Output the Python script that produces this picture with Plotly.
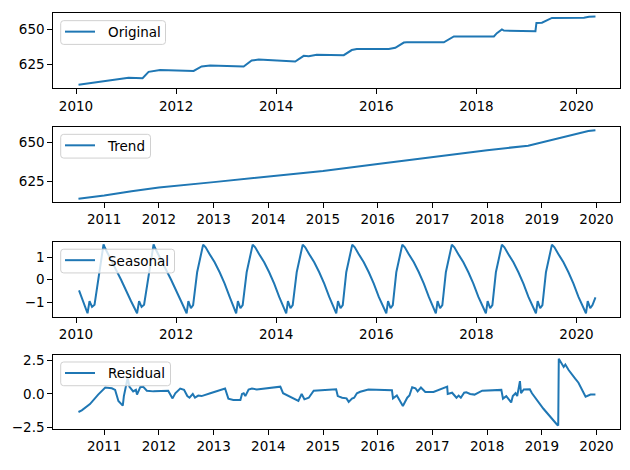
import plotly.graph_objects as go

# decimal years and values
ORIG_T = [2010.05, 2011.05, 2011.33, 2011.45, 2011.68, 2012.35, 2012.51, 2012.68,
          2013.35, 2013.51, 2013.65, 2014.38, 2014.55, 2014.65, 2014.81, 2015.35,
          2015.51, 2015.61, 2016.25, 2016.38, 2016.55, 2016.61, 2017.35, 2017.55,
          2018.35, 2018.41, 2018.51, 2018.55, 2019.18, 2019.20, 2019.31, 2019.51,
          2020.15, 2020.25, 2020.38]
ORIG_V = [610.9, 615.8, 615.5, 620.0, 621.3, 620.6, 623.8, 624.5,
          623.8, 628.0, 628.7, 627.3, 631.3, 631.0, 632.0, 631.8,
          635.4, 636.1, 636.1, 637.0, 640.7, 640.9, 640.9, 645.1,
          645.1, 647.4, 650.0, 649.2, 648.8, 654.6, 654.8, 658.2,
          658.3, 659.0, 659.1]

TREND_T = [2010.53, 2011.0, 2011.5, 2012.0, 2013.0, 2014.0, 2015.0, 2016.0,
           2017.0, 2018.0, 2018.75, 2019.0, 2019.5, 2019.85, 2019.98]
TREND_V = [614.0, 616.0, 618.8, 621.2, 624.6, 628.3, 631.7, 636.2,
           640.8, 645.0, 647.9, 650.0, 654.6, 657.3, 657.8]

SEAS_T = [2010.06, 2010.23, 2010.27, 2010.32, 2010.37, 2010.55, 2010.58, 2010.90, 2011.10,
          2011.22, 2011.26, 2011.31, 2011.36, 2011.55, 2011.58, 2011.90, 2012.10,
          2012.21, 2012.245, 2012.295, 2012.34, 2012.42, 2012.54, 2012.59, 2012.67, 2012.77, 2012.87, 2012.97, 2013.07,
          2013.20, 2013.235, 2013.285, 2013.33, 2013.41, 2013.53, 2013.58, 2013.66, 2013.76, 2013.86, 2013.96, 2014.06,
          2014.20, 2014.235, 2014.285, 2014.33, 2014.41, 2014.53, 2014.58, 2014.66, 2014.76, 2014.86, 2014.96, 2015.06,
          2015.20, 2015.235, 2015.285, 2015.33, 2015.40, 2015.52, 2015.57, 2015.65, 2015.75, 2015.85, 2015.95, 2016.05,
          2016.20, 2016.235, 2016.285, 2016.33, 2016.40, 2016.52, 2016.57, 2016.65, 2016.75, 2016.85, 2016.95, 2017.05,
          2017.19, 2017.225, 2017.275, 2017.32, 2017.39, 2017.51, 2017.56, 2017.64, 2017.74, 2017.84, 2017.94, 2018.04,
          2018.19, 2018.225, 2018.275, 2018.32, 2018.39, 2018.51, 2018.56, 2018.64, 2018.74, 2018.84, 2018.94, 2019.04,
          2019.19, 2019.225, 2019.275, 2019.32, 2019.39, 2019.51, 2019.56, 2019.64, 2019.74, 2019.84, 2019.94, 2020.04,
          2020.19, 2020.225, 2020.275, 2020.32, 2020.38]
SEAS_V = [-0.47, -1.48, -0.94, -1.20, -1.10, 1.56, 1.40, 0.00, -0.95,
          -1.48, -0.94, -1.20, -1.10, 1.56, 1.40, 0.00, -0.95,
          -1.48, -0.94, -1.26, -1.12, 0.33, 1.55, 1.43, 1.13, 0.77, 0.33, -0.17, -0.76,
          -1.48, -0.94, -1.26, -1.12, 0.33, 1.55, 1.43, 1.13, 0.77, 0.33, -0.17, -0.76,
          -1.48, -0.94, -1.26, -1.12, 0.33, 1.55, 1.43, 1.13, 0.77, 0.33, -0.17, -0.76,
          -1.48, -0.94, -1.26, -1.12, 0.33, 1.55, 1.43, 1.13, 0.77, 0.33, -0.17, -0.76,
          -1.48, -0.94, -1.26, -1.12, 0.33, 1.55, 1.43, 1.13, 0.77, 0.33, -0.17, -0.76,
          -1.48, -0.94, -1.26, -1.12, 0.33, 1.55, 1.43, 1.13, 0.77, 0.33, -0.17, -0.76,
          -1.48, -0.94, -1.26, -1.12, 0.33, 1.55, 1.43, 1.13, 0.77, 0.33, -0.17, -0.76,
          -1.48, -0.94, -1.26, -1.12, 0.33, 1.55, 1.43, 1.13, 0.77, 0.33, -0.17, -0.76,
          -1.48, -0.94, -1.26, -1.12, -0.78]

RESID_T = [2010.53, 2010.59, 2010.74, 2010.89, 2011.02, 2011.14, 2011.20, 2011.26, 2011.34,
           2011.36, 2011.43, 2011.46, 2011.53, 2011.58, 2011.60, 2011.66, 2011.71, 2011.78,
           2011.90, 2012.17, 2012.25, 2012.30, 2012.39, 2012.46, 2012.52, 2012.56, 2012.62,
           2012.66, 2012.72, 2012.78, 2012.94, 2013.21, 2013.27, 2013.36, 2013.49, 2013.52,
           2013.55, 2013.58, 2013.64, 2013.70, 2013.79, 2014.22, 2014.27, 2014.37, 2014.43,
           2014.49, 2014.55, 2014.61, 2014.66, 2014.74, 2014.83, 2015.24, 2015.27, 2015.35,
           2015.43, 2015.47, 2015.53, 2015.57, 2015.62, 2015.68, 2015.83, 2016.26, 2016.28,
           2016.35, 2016.46, 2016.54, 2016.58, 2016.63, 2016.69, 2016.73, 2016.79, 2016.87,
           2017.02, 2017.27, 2017.28, 2017.36, 2017.44, 2017.48, 2017.52, 2017.58, 2017.62,
           2017.69, 2017.77, 2017.91, 2018.26, 2018.29, 2018.35, 2018.44, 2018.47, 2018.52,
           2018.55, 2018.60, 2018.62, 2018.67, 2018.78, 2018.82, 2019.03, 2019.28, 2019.30,
           2019.31, 2019.35, 2019.40, 2019.43, 2019.49, 2019.61, 2019.67, 2019.80, 2019.89,
           2019.98]
RESID_V = [-1.34, -1.22, -0.75, -0.05, 0.47, 0.42, 0.30, -0.52, -0.87,
           -0.16, 1.20, 0.54, 0.19, 0.30, -0.05, 0.50, 0.54, 0.24,
           0.19, 0.24, -0.33, 0.05, 0.40, 0.30, -0.16, -0.28, 0.00,
           -0.28, -0.12, -0.16, 0.05, 0.40, -0.35, -0.45, -0.45, 0.00,
           0.05, -0.16, 0.33, 0.40, 0.33, 0.54, 0.05, -0.16, -0.28,
           -0.40, -0.52, 0.00, -0.40, -0.28, 0.24, 0.35, -0.16, -0.28,
           -0.33, -0.59, -0.35, -0.28, 0.05, 0.16, 0.33, 0.28, -0.33,
           -0.12, -0.89, -0.28, -0.12, 0.50, 0.42, 0.19, 0.47, 0.14,
           0.14, 0.54, 0.00, 0.09, -0.28, -0.12, -0.28, 0.09, 0.12,
           0.00, -0.05, 0.24, 0.30, -0.35, -0.16, -0.63, -0.16, 0.05,
           -0.16, 0.95, 0.05, 0.33, 0.35, 0.05, -1.10, -2.28, -2.35,
           2.61, 2.30, 2.00, 2.18, 1.77, 1.13, 0.83, -0.21, -0.05,
           -0.05]

EVEN_YEARS = [2010, 2012, 2014, 2016, 2018, 2020]
ALL_YEARS = [2011, 2012, 2013, 2014, 2015, 2016, 2017, 2018, 2019, 2020]
ORIG_TICKS = [625, 650]
TREND_TICKS = [625, 650]
SEAS_TICKS = [-1, 0, 1]
RESID_TICKS = [-2.5, 0.0, 2.5]
RESID_TICK_TEXT = ["\u22122.5", "0.0", "2.5"]
SEAS_TICK_TEXT = ["\u22121", "0", "1"]

W, H = 630, 470
FONT = "DejaVu Sans"
BLUE = "#1f77b4"


def px(x, y):
    """pixel position (from top-left) -> paper coords"""
    return x / W, 1 - y / H


def rounded_box(x0, y0, x1, y1, r=3):
    pts = []
    a = px(x0 + r, y0); b = px(x1 - r, y0); c = px(x1, y0); d = px(x1, y0 + r)
    e = px(x1, y1 - r); f = px(x1, y1); g = px(x1 - r, y1); h = px(x0 + r, y1)
    i = px(x0, y1); j = px(x0, y1 - r); k = px(x0, y0 + r); l = px(x0, y0)
    for p in (a, b, c, d, e, f, g, h, i, j, k, l):
        pts.append(f"{p[0]:.5f},{p[1]:.5f}")
    return (f"M{pts[0]} L{pts[1]} Q{pts[2]} {pts[3]} L{pts[4]} Q{pts[5]} {pts[6]} "
            f"L{pts[7]} Q{pts[8]} {pts[9]} L{pts[10]} Q{pts[11]} {pts[0]} Z")


# (name, x, y, top px, bottom px, x range, x ticks, y range, y ticks, y tick text, legend right px)
panels = [
    ("Original", ORIG_T, ORIG_V, 10.7, 87.0, [2009.546, 2020.86], EVEN_YEARS,
     [608.3, 661.3], ORIG_TICKS, [str(v) for v in ORIG_TICKS], 165.5),
    ("Trend", TREND_T, TREND_V, 126.6, 202.9, [2010.07, 2020.42], ALL_YEARS,
     [611.9, 659.7], TREND_TICKS, [str(v) for v in TREND_TICKS], 150.5),
    ("Seasonal", SEAS_T, SEAS_V, 243.7, 319.7, [2009.546, 2020.86], EVEN_YEARS,
     [-1.626, 1.665], SEAS_TICKS, SEAS_TICK_TEXT, 174.5),
    ("Residual", RESID_T, RESID_V, 358.7, 434.3, [2010.07, 2020.42], ALL_YEARS,
     [-2.6, 2.9], RESID_TICKS, RESID_TICK_TEXT, 170.5),
]

fig = go.Figure()
layout = dict(
    width=W, height=H,
    margin=dict(l=0, r=0, t=0, b=0),
    paper_bgcolor="white", plot_bgcolor="white",
    font=dict(family=FONT, size=13.5, color="black"),
    showlegend=False,
)
shapes = []
annotations = []

for i, (name, xs, ys, top, bot, xr, xt, yr, yt, ytt, leg_r) in enumerate(panels, start=1):
    sfx = "" if i == 1 else str(i)
    fig.add_trace(go.Scatter(
        x=xs, y=ys, mode="lines", name=name,
        line=dict(color=BLUE, width=2),
        xaxis=f"x{sfx}", yaxis=f"y{sfx}",
    ))
    axis_style = dict(
        showline=True, mirror=True, linecolor="black", linewidth=1,
        ticks="outside", ticklen=5, tickwidth=1, tickcolor="black",
        showgrid=False, zeroline=False, fixedrange=True,
        tickfont=dict(family=FONT, size=13.5, color="black"),
    )
    layout[f"xaxis{sfx}"] = dict(
        axis_style, domain=[53.3 / W, 619.5 / W], range=xr,
        tickmode="array", tickvals=xt, ticktext=[str(v) for v in xt],
        anchor=f"y{sfx}",
    )
    layout[f"yaxis{sfx}"] = dict(
        axis_style, domain=[1 - bot / H, 1 - top / H], range=yr,
        tickmode="array", tickvals=yt, ticktext=ytt,
        anchor=f"x{sfx}",
    )

    # matplotlib-style legend box in the upper-left corner
    shapes.append(dict(
        type="path", xref="paper", yref="paper", layer="above",
        path=rounded_box(60.7, top + 7.3, leg_r, top + 31.5),
        fillcolor="rgba(255,255,255,0.8)", line=dict(color="#d0d0d0", width=1),
    ))
    lx0, ly = px(65, top + 18.5)
    lx1, _ = px(95, top + 18.5)
    shapes.append(dict(
        type="line", xref="paper", yref="paper", layer="above",
        x0=lx0, x1=lx1, y0=ly, y1=ly, line=dict(color=BLUE, width=2),
    ))
    tx, ty = px(105.5, top + 19)
    annotations.append(dict(
        text=name, xref="paper", yref="paper", x=tx, y=ty,
        xanchor="left", yanchor="middle", showarrow=False,
        font=dict(family=FONT, size=13.5, color="black"),
    ))

layout["shapes"] = shapes
layout["annotations"] = annotations
fig.update_layout(**layout)
# page body has a default 8px margin; drop it so the figure sits at the window corner
fig.write_html("out.html", config={"displayModeBar": False},
               post_script="document.body.style.margin='0';")
